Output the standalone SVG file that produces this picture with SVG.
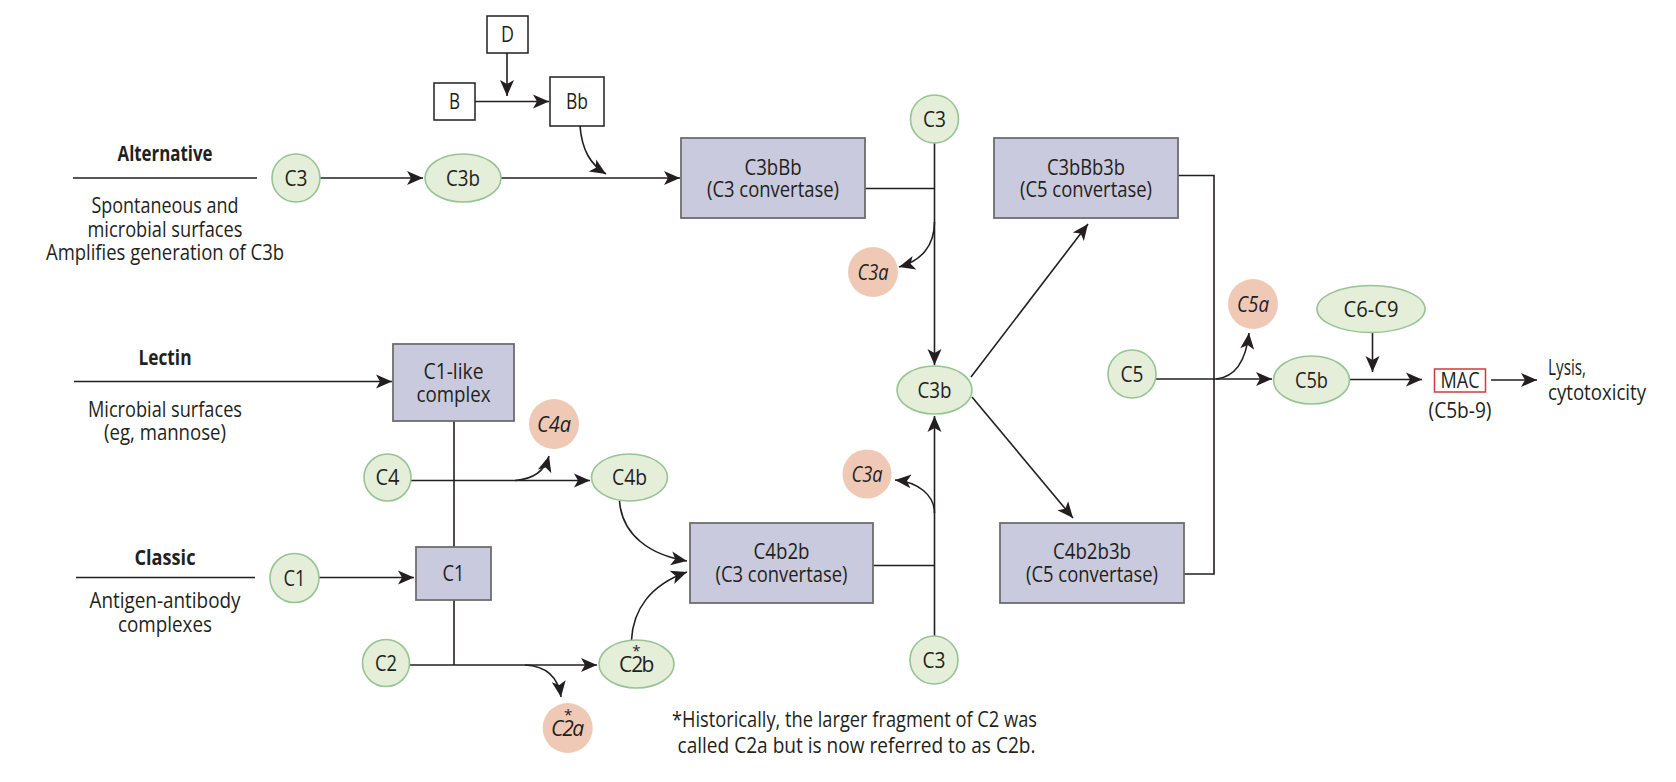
<svg xmlns="http://www.w3.org/2000/svg" width="1676" height="782" viewBox="0 0 1676 782">
  <style>
    text { font-family: "Open Sans", "Noto Sans", "Liberation Sans", sans-serif; font-size: 21px; fill: #231f20; }
    .c { text-anchor: middle; }
    .b { font-weight: bold; }
    .i { font-style: italic; }
    .star { font-size: 15px; font-style: normal; }
    .green { fill: #e5eed9; stroke: #96c493; stroke-width: 1.6; }
    .pink { fill: #efc9b5; stroke: none; }
    .cx { fill: #c9cadd; stroke: #6d6d70; stroke-width: 1.8; }
    .wb { fill: #ffffff; stroke: #231f20; stroke-width: 1.5; }
    .mac { fill: #ffffff; stroke: #d2383c; stroke-width: 1.5; }
    .ln { fill: none; stroke: #231f20; stroke-width: 1.6; }
    .ar { marker-end: url(#head); }
  </style>
  <defs>
    <marker id="head" viewBox="-17 -8 18 16" refX="0" refY="0" markerWidth="18" markerHeight="16" markerUnits="userSpaceOnUse" orient="auto">
      <path d="M0,0 L-16,-7 L-12,0 L-16,7 Z" fill="#231f20"/>
    </marker>
  </defs>
  <rect width="1676" height="782" fill="#ffffff"/>

  <!-- pathway labels -->
  <g id="label-alternative">
    <text class="c b" x="165" y="161" textLength="95" lengthAdjust="spacingAndGlyphs">Alternative</text>
    <text class="c"><tspan x="165" y="213" textLength="147" lengthAdjust="spacingAndGlyphs">Spontaneous and</tspan><tspan x="165" y="236.5" textLength="155" lengthAdjust="spacingAndGlyphs">microbial surfaces</tspan><tspan x="165" y="260" textLength="238" lengthAdjust="spacingAndGlyphs">Amplifies generation of C3b</tspan></text>
  </g>
  <g id="label-lectin">
    <text class="c b" x="165" y="365" textLength="53" lengthAdjust="spacingAndGlyphs">Lectin</text>
    <text class="c"><tspan x="165" y="417" textLength="154" lengthAdjust="spacingAndGlyphs">Microbial surfaces</tspan><tspan x="165" y="440" textLength="122" lengthAdjust="spacingAndGlyphs">(eg, mannose)</tspan></text>
  </g>
  <g id="label-classic">
    <text class="c b" x="165" y="565" textLength="61" lengthAdjust="spacingAndGlyphs">Classic</text>
    <text class="c"><tspan x="165" y="608" textLength="151" lengthAdjust="spacingAndGlyphs">Antigen-antibody</tspan><tspan x="165" y="631.5" textLength="94" lengthAdjust="spacingAndGlyphs">complexes</tspan></text>
  </g>

  <!-- connectors -->
  <g id="connectors">
    <path class="ln" d="M73,178 L257,178"/>
    <path class="ln ar" d="M74,381.5 L392,381.5"/>
    <path class="ln" d="M76,577.5 L255,577.5"/>

    <path class="ln ar" d="M320,178 L423,178"/>
    <path class="ln ar" d="M501,178 L680,178"/>
    <path class="ln ar" d="M507,53 L507,96"/>
    <path class="ln ar" d="M475,101.5 L549,101.5"/>
    <path class="ln ar" d="M580,126 C582,150 590,164 606,174"/>

    <path class="ln" d="M865,188.5 L934.5,188.5"/>
    <path class="ln ar" d="M934.5,143 L934.5,365"/>
    <path class="ln ar" d="M934.5,222 C934.5,246 921,261 899,267"/>
    <path class="ln ar" d="M971,377 L1088,224"/>
    <path class="ln ar" d="M972,397 L1073,518"/>

    <path class="ln" d="M1178,175.5 L1214,175.5 L1214,574 L1184,574"/>
    <path class="ln ar" d="M1156,379 L1272,379"/>
    <path class="ln ar" d="M1216,379 C1236,377 1246,360 1249,333"/>
    <path class="ln ar" d="M1372.5,333 L1372.5,372"/>
    <path class="ln ar" d="M1349,379.5 L1422,379.5"/>
    <path class="ln ar" d="M1491,380 L1537,380"/>

    <path class="ln" d="M454,421 L454,547"/>
    <path class="ln ar" d="M411,480.5 L590,480.5"/>
    <path class="ln ar" d="M515,480.5 C535,479 545,470 549,456"/>
    <path class="ln ar" d="M619.5,501 C622,535 650,555 687,561"/>
    <path class="ln ar" d="M319,577.5 L414,577.5"/>
    <path class="ln" d="M454,600 L454,665"/>
    <path class="ln ar" d="M409,665 L597,665"/>
    <path class="ln ar" d="M525,665 C545,666 558,676 561,697"/>
    <path class="ln ar" d="M631.5,640 C633,610 650,585 687,572"/>

    <path class="ln" d="M873,565.5 L934.5,565.5"/>
    <path class="ln ar" d="M934.5,636 L934.5,416"/>
    <path class="ln ar" d="M934.5,513 C934.5,495 918,482 895,480"/>
  </g>

  <!-- alternative pathway -->
  <g id="node-D"><rect class="wb" x="487" y="16" width="41" height="37"/><text class="c" x="507.5" y="42" textLength="13" lengthAdjust="spacingAndGlyphs">D</text></g>
  <g id="node-B"><rect class="wb" x="434" y="83" width="41" height="37"/><text class="c" x="454.5" y="109" textLength="11" lengthAdjust="spacingAndGlyphs">B</text></g>
  <g id="node-Bb"><rect class="wb" x="550" y="77" width="54" height="49"/><text class="c" x="577" y="109" textLength="22" lengthAdjust="spacingAndGlyphs">Bb</text></g>
  <g id="node-C3-alt"><circle class="green" cx="296" cy="178" r="24"/><text class="c" x="296" y="185.5" textLength="23" lengthAdjust="spacingAndGlyphs">C3</text></g>
  <g id="node-C3b-alt"><ellipse class="green" cx="463" cy="178" rx="38" ry="24"/><text class="c" x="463" y="185.5" textLength="34" lengthAdjust="spacingAndGlyphs">C3b</text></g>
  <g id="node-C3bBb"><rect class="cx" x="681" y="138" width="184" height="80"/><text class="c"><tspan x="773" y="175" textLength="57" lengthAdjust="spacingAndGlyphs">C3bBb</tspan><tspan x="773" y="197" textLength="132" lengthAdjust="spacingAndGlyphs">(C3 convertase)</tspan></text></g>
  <g id="node-C3-top"><circle class="green" cx="934.5" cy="119" r="24"/><text class="c" x="934.5" y="126.5" textLength="23" lengthAdjust="spacingAndGlyphs">C3</text></g>
  <g id="node-C3a-top"><circle class="pink" cx="873" cy="272" r="25"/><text class="c i" x="873" y="279.5" textLength="31" lengthAdjust="spacingAndGlyphs">C3a</text></g>
  <g id="node-C3bBb3b"><rect class="cx" x="994" y="138" width="184" height="80"/><text class="c"><tspan x="1086" y="175" textLength="78" lengthAdjust="spacingAndGlyphs">C3bBb3b</tspan><tspan x="1086" y="197" textLength="132" lengthAdjust="spacingAndGlyphs">(C5 convertase)</tspan></text></g>
  <g id="node-C3b-mid"><ellipse class="green" cx="934.5" cy="390" rx="37.5" ry="24"/><text class="c" x="934.5" y="397.5" textLength="34" lengthAdjust="spacingAndGlyphs">C3b</text></g>

  <!-- terminal pathway -->
  <g id="node-C5"><circle class="green" cx="1132" cy="374" r="24"/><text class="c" x="1132" y="381.5" textLength="23" lengthAdjust="spacingAndGlyphs">C5</text></g>
  <g id="node-C5a"><circle class="pink" cx="1253" cy="304" r="25"/><text class="c i" x="1253" y="311.5" textLength="32" lengthAdjust="spacingAndGlyphs">C5a</text></g>
  <g id="node-C6-C9"><ellipse class="green" cx="1371" cy="309" rx="54" ry="23.5"/><text class="c" x="1371" y="316.5" textLength="55" lengthAdjust="spacingAndGlyphs">C6-C9</text></g>
  <g id="node-C5b"><ellipse class="green" cx="1311.5" cy="380" rx="38" ry="24"/><text class="c" x="1311.5" y="387.5" textLength="33" lengthAdjust="spacingAndGlyphs">C5b</text></g>
  <g id="node-MAC"><rect class="mac" x="1434.5" y="369" width="51" height="23"/><text class="c"><tspan x="1460" y="388" textLength="39" lengthAdjust="spacingAndGlyphs">MAC</tspan><tspan x="1460" y="418" textLength="63" lengthAdjust="spacingAndGlyphs">(C5b-9)</tspan></text></g>
  <g id="node-lysis"><text><tspan x="1548" y="375" textLength="38" lengthAdjust="spacingAndGlyphs">Lysis,</tspan><tspan x="1548" y="400" textLength="98" lengthAdjust="spacingAndGlyphs">cytotoxicity</tspan></text></g>

  <!-- lectin and classic pathways -->
  <g id="node-C1-like"><rect class="cx" x="393" y="344" width="121" height="77"/><text class="c"><tspan x="453.5" y="379" textLength="60" lengthAdjust="spacingAndGlyphs">C1-like</tspan><tspan x="453.5" y="401.5" textLength="74" lengthAdjust="spacingAndGlyphs">complex</tspan></text></g>
  <g id="node-C4a"><circle class="pink" cx="554" cy="424" r="25"/><text class="c i" x="554" y="431.5" textLength="34" lengthAdjust="spacingAndGlyphs">C4a</text></g>
  <g id="node-C4"><circle class="green" cx="387.5" cy="477.5" r="23.5"/><text class="c" x="387.5" y="485" textLength="24" lengthAdjust="spacingAndGlyphs">C4</text></g>
  <g id="node-C4b"><ellipse class="green" cx="629.5" cy="477.5" rx="38" ry="23.5"/><text class="c" x="629.5" y="485" textLength="35" lengthAdjust="spacingAndGlyphs">C4b</text></g>
  <g id="node-C1"><circle class="green" cx="294.5" cy="578" r="24.5"/><text class="c" x="294.5" y="585.5" textLength="22" lengthAdjust="spacingAndGlyphs">C1</text></g>
  <g id="node-C1-box"><rect class="cx" x="416" y="547" width="75" height="53"/><text class="c" x="453.5" y="581" textLength="22" lengthAdjust="spacingAndGlyphs">C1</text></g>
  <g id="node-C2"><circle class="green" cx="386" cy="663" r="23.5"/><text class="c" x="386" y="670.5" textLength="22" lengthAdjust="spacingAndGlyphs">C2</text></g>
  <g id="node-C2b"><ellipse class="green" cx="636.5" cy="664" rx="37.5" ry="24"/><text x="619" y="671.5" letter-spacing="-1">C2<tspan class="star" dx="-10" dy="-15.5">*</tspan><tspan dx="2" dy="15.5">b</tspan></text></g>
  <g id="node-C2a"><circle class="pink" cx="567.7" cy="728" r="25"/><text class="i" x="551" y="735.5" letter-spacing="-1">C2<tspan class="star" dx="-9" dy="-15.5">*</tspan><tspan dx="1" dy="15.5">a</tspan></text></g>
  <g id="node-C4b2b"><rect class="cx" x="690" y="523" width="183" height="80"/><text class="c"><tspan x="781.5" y="559" textLength="56" lengthAdjust="spacingAndGlyphs">C4b2b</tspan><tspan x="781.5" y="582" textLength="132" lengthAdjust="spacingAndGlyphs">(C3 convertase)</tspan></text></g>
  <g id="node-C3a-low"><circle class="pink" cx="867" cy="474" r="24.5"/><text class="c i" x="867" y="481.5" textLength="31" lengthAdjust="spacingAndGlyphs">C3a</text></g>
  <g id="node-C3-bottom"><circle class="green" cx="934" cy="660" r="24"/><text class="c" x="934" y="667.5" textLength="23" lengthAdjust="spacingAndGlyphs">C3</text></g>
  <g id="node-C4b2b3b"><rect class="cx" x="1000" y="523" width="184" height="80"/><text class="c"><tspan x="1092" y="559" textLength="78" lengthAdjust="spacingAndGlyphs">C4b2b3b</tspan><tspan x="1092" y="582" textLength="132" lengthAdjust="spacingAndGlyphs">(C5 convertase)</tspan></text></g>

  <!-- footnote -->
  <g id="footnote">
    <text><tspan x="672" y="726.5" textLength="365" lengthAdjust="spacingAndGlyphs">*Historically, the larger fragment of C2 was</tspan><tspan x="677.5" y="753" textLength="358" lengthAdjust="spacingAndGlyphs">called C2a but is now referred to as C2b.</tspan></text>
  </g>
</svg>
